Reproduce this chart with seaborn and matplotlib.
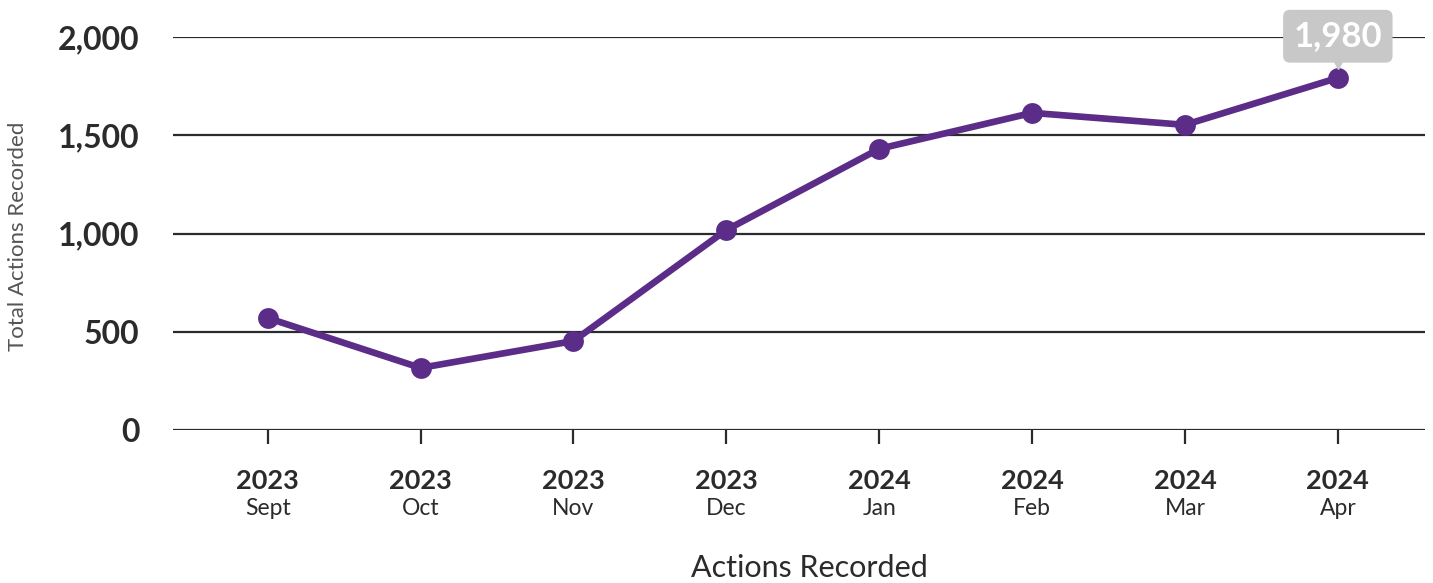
import matplotlib.pyplot as plt
import matplotlib.transforms as mtrans
import pandas as pd
import seaborn as sns

# datos del grafico
years = ["2023", "2023", "2023", "2023", "2024", "2024", "2024", "2024"]
months = ["Sept", "Oct", "Nov", "Dec", "Jan", "Feb", "Mar", "Apr"]
actions = [570, 316, 453, 1018, 1431, 1614, 1553, 1792]
y_ticks = [0, 500, 1000, 1500, 2000]
callout_label = "1,980"

purple = "#5c2d88"
dark = "#2b2b2b"

sns.set_theme(style="white")
plt.rcParams['font.family'] = ['Lato', 'DejaVu Sans']

df = pd.DataFrame({"pos": range(len(months)), "actions": actions})

fig = plt.figure(figsize=(14.33, 5.83), dpi=100)
ax = fig.add_axes([0.1207, 0.2624, 0.8737, 0.6741])

# lineas de la cuadricula
for t in y_ticks:
    ax.axhline(t, color=dark, linewidth=1.6, zorder=1)

sns.lineplot(data=df, x="pos", y="actions", ax=ax, color=purple, linewidth=4.8,
             marker="o", markersize=15, markeredgewidth=0, zorder=3)

ax.set_xlim(-0.62, 7.57)
ax.set_ylim(0, 2000)
ax.set_yticks(y_ticks)
ax.set_yticklabels([f"{t:,}" for t in y_ticks], fontsize=23, fontweight="bold", color=dark)
ax.tick_params(axis="y", length=0, pad=24)

ax.set_xticks(range(len(months)))
ax.set_xticklabels(years, fontsize=19.5, fontweight="bold", color=dark)
ax.tick_params(axis="x", length=10, width=1.6, color=dark, pad=18, bottom=True)

# mes debajo del anio
trans = mtrans.blended_transform_factory(ax.transData, ax.transAxes)
for i, m in enumerate(months):
    ax.text(i, -0.2, m, transform=trans, ha="center", va="center",
            fontsize=16.5, color=dark)

for s in ax.spines.values():
    s.set_visible(False)

ax.set_xlabel("")
ax.set_ylabel("")
fig.text(0.565, 0.026, "Actions Recorded", ha="center", va="center", fontsize=22, color=dark)
fig.text(0.0126, 0.595, "Total Actions Recorded", rotation=90, ha="center", va="center",
         fontsize=16, color="#555555")

# etiqueta del ultimo punto
last = len(actions) - 1
ax.annotate(callout_label, xy=(last, actions[last]), xytext=(0, 30), textcoords="offset points",
            ha="center", va="center", fontsize=25, fontweight="bold", color="white",
            bbox=dict(boxstyle="round,pad=0.3,rounding_size=0.2", fc="#c8c8c8", ec="none"),
            annotation_clip=False, zorder=5)
tri = mtrans.offset_copy(ax.transData, fig=fig, x=0, y=12, units="points")
ax.plot([last], [actions[last]], marker="v", markersize=11, color="#c8c8c8",
        transform=tri, clip_on=False, zorder=4)

fig.savefig("out.png", dpi=100)
